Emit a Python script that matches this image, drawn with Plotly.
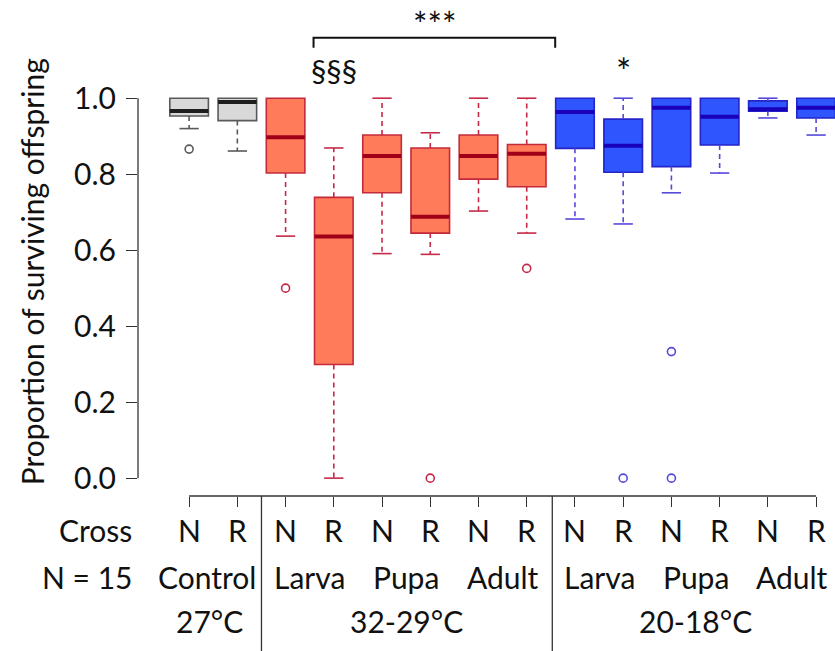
import plotly.graph_objects as go

# ---------------- data ----------------
cross = ["N", "R", "N", "R", "N", "R", "N", "R", "N", "R", "N", "R", "N", "R"]
stage_labels = ["Control", "Larva", "Pupa", "Adult", "Larva", "Pupa", "Adult"]
temp_labels = ["27°C", "32-29°C", "20-18°C"]
q1 = [0.953, 0.941, 0.803, 0.299, 0.751, 0.645, 0.787, 0.767, 0.868, 0.805, 0.820, 0.877, 0.966, 0.948]
med = [0.966, 0.990, 0.897, 0.636, 0.848, 0.688, 0.848, 0.854, 0.964, 0.875, 0.975, 0.951, 0.971, 0.975]
q3 = [1.000, 1.000, 1.000, 0.739, 0.903, 0.869, 0.903, 0.878, 1.000, 0.945, 1.000, 1.000, 0.993, 1.000]
lo = [0.920, 0.861, 0.637, 0.000, 0.591, 0.589, 0.703, 0.645, 0.682, 0.669, 0.751, 0.803, 0.948, 0.903]
hi = [1.000, 1.000, 1.000, 0.869, 1.000, 0.909, 1.000, 1.000, 1.000, 1.000, 1.000, 1.000, 1.000, 1.000]
outliers = [[0.866], [], [0.50], [], [], [0.0], [], [0.552], [], [0.0], [0.333, 0.0], [], [], []]
group_of = [0, 0, 1, 1, 1, 1, 1, 1, 2, 2, 2, 2, 2, 2]

# ---------------- styles ----------------
FONT = "Lato"
fills = ["#d9d9d9", "#ff7b59", "#2f55ff"]
borders = ["#5a5a5a", "#c42a3c", "#2424c8"]
medcols = ["#1e1e1e", "#a00018", "#1a00b8"]
whiskcols = ["#5a5a5a", "#c42a48", "#5548dc"]
BW = 0.8
pos = list(range(1, len(cross) + 1))

fig = go.Figure()

for g in range(3):
    idx = [i for i in range(len(pos)) if group_of[i] == g]
    xs = [pos[i] for i in idx]
    fig.add_trace(go.Box(
        x=xs, q1=[q1[i] for i in idx], median=[med[i] for i in idx],
        q3=[q3[i] for i in idx], lowerfence=[q1[i] for i in idx],
        upperfence=[q3[i] for i in idx], width=BW,
        fillcolor=fills[g], line=dict(color=borders[g], width=1.6),
        boxpoints=False, showlegend=False, hoverinfo="skip"))

for g in range(3):
    idx = [i for i in range(len(pos)) if group_of[i] == g]
    wx, wy, cx, cy, mx, my, ox, oy = [], [], [], [], [], [], [], []
    for i in idx:
        p = pos[i]
        if hi[i] > q3[i]:
            wx += [p, p, None]; wy += [q3[i], hi[i], None]
        if lo[i] < q1[i]:
            wx += [p, p, None]; wy += [q1[i], lo[i], None]
        if hi[i] > q3[i]:
            cx += [p - BW / 4, p + BW / 4, None]; cy += [hi[i], hi[i], None]
        if lo[i] < q1[i]:
            cx += [p - BW / 4, p + BW / 4, None]; cy += [lo[i], lo[i], None]
        mx += [p - BW / 2, p + BW / 2, None]; my += [med[i], med[i], None]
        for o in outliers[i]:
            ox.append(p); oy.append(o)
    fig.add_trace(go.Scatter(x=wx, y=wy, mode="lines", showlegend=False, hoverinfo="skip",
                             line=dict(color=whiskcols[g], width=1.6, dash="5px,4px")))
    fig.add_trace(go.Scatter(x=cx, y=cy, mode="lines", showlegend=False, hoverinfo="skip",
                             line=dict(color=whiskcols[g], width=1.6)))
    fig.add_trace(go.Scatter(x=mx, y=my, mode="lines", showlegend=False, hoverinfo="skip",
                             line=dict(color=medcols[g], width=4)))
    fig.add_trace(go.Scatter(x=ox, y=oy, mode="markers", showlegend=False, hoverinfo="skip",
                             cliponaxis=False,
                             marker=dict(symbol="circle-open", size=8,
                                         line=dict(color=whiskcols[g], width=1.6),
                                         color=whiskcols[g])))

AX = "#333333"
shapes = [
    dict(type="line", xref="paper", yref="y", x0=0, x1=0, y0=0, y1=1,
         line=dict(color=AX, width=1.3)),
    dict(type="line", xref="x", yref="paper", x0=pos[0], x1=pos[-1], y0=0, y1=0,
         line=dict(color=AX, width=1.3)),
    dict(type="line", xref="x", yref="paper", x0=2.5, x1=2.5, y0=0, y1=-0.4,
         line=dict(color=AX, width=1.3)),
    dict(type="line", xref="x", yref="paper", x0=8.53, x1=8.53, y0=0, y1=-0.4,
         line=dict(color=AX, width=1.3)),
    dict(type="path", xref="x", yref="paper",
         path="M 3.58 1.0855 L 3.58 1.1097 L 8.59 1.1097 L 8.59 1.0855",
         line=dict(color="#111111", width=2)),
]

ann = []
LBL = dict(family=FONT, size=30, color="#111111")
for i, p in enumerate(pos):
    ann.append(dict(x=p, y=-0.082, xref="x", yref="paper", text=cross[i], showarrow=False,
                    xanchor="center", yanchor="middle", font=LBL))
stage_x = [1.38, 3.5, 5.5, 7.5, 9.5, 11.5, 13.5]
for s, x in zip(stage_labels, stage_x):
    ann.append(dict(x=x, y=-0.196, xref="x", yref="paper", text=s, showarrow=False,
                    xanchor="center", yanchor="middle", font=LBL))
temp_x = [1.42, 5.5, 11.5]
for t, x in zip(temp_labels, temp_x):
    ann.append(dict(x=x, y=-0.302, xref="x", yref="paper", text=t, showarrow=False,
                    xanchor="center", yanchor="middle", font=LBL))
ann.append(dict(x=-0.006, y=-0.082, xref="paper", yref="paper", text="Cross", showarrow=False,
                xanchor="right", yanchor="middle", font=LBL))
ann.append(dict(x=-0.006, y=-0.196, xref="paper", yref="paper", text="N = 15", showarrow=False,
                xanchor="right", yanchor="middle", font=LBL))
ann.append(dict(x=-0.152, y=0.542, xref="paper", yref="paper",
                text="Proportion of surviving offspring", textangle=-90, showarrow=False,
                xanchor="center", yanchor="middle", font=LBL))
ann.append(dict(x=6.08, y=1.198, xref="x", yref="paper", text="***", showarrow=False,
                xanchor="center", yanchor="top", font=dict(family=FONT, size=34, color="#111111")))
ann.append(dict(x=4.0, y=1.031, xref="x", yref="paper", text="§§§", showarrow=False,
                xanchor="center", yanchor="middle", font=dict(family=FONT, size=31, color="#111111")))
ann.append(dict(x=10, y=1.03, xref="x", yref="paper", text="*", showarrow=False,
                xanchor="center", yanchor="middle", font=dict(family=FONT, size=36, color="#111111")))

fig.update_layout(
    width=835, height=651,
    margin=dict(l=138, r=0, t=83, b=155),
    paper_bgcolor="white", plot_bgcolor="white",
    boxmode="overlay",
    shapes=shapes, annotations=ann,
    xaxis=dict(range=[-0.06, 14.392], tickvals=pos, ticks="outside", ticklen=10,
               tickwidth=1.3, tickcolor=AX, showticklabels=False, showgrid=False,
               zeroline=False, showline=False, fixedrange=True),
    yaxis=dict(range=[-0.047, 1.04], tickvals=[0, 0.2, 0.4, 0.6, 0.8, 1.0],
               ticktext=["0.0", "0.2", "0.4", "0.6", "0.8", "1.0"],
               ticks="outside", ticklen=11, tickwidth=1.3, tickcolor=AX,
               ticklabelstandoff=4,
               tickfont=dict(family=FONT, size=30, color="#111111"),
               showgrid=False, zeroline=False, showline=False, fixedrange=True),
)

fig.write_html("out.html")
